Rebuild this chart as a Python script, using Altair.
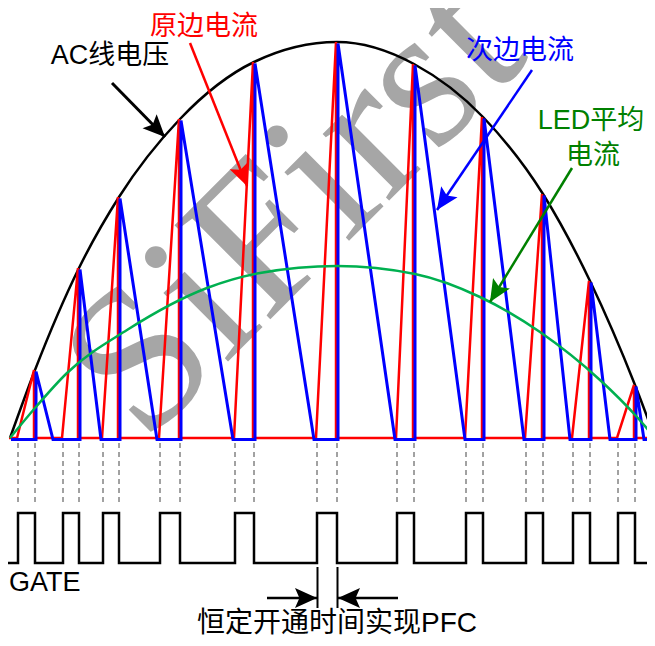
import math
import altair as alt
import pandas as pd

BASE = 438  # screen row of zero current (used only to convert annotation rows)

# ---- switching cycles (time axis in px-like units, current as height) ----
gate_on   = [18, 63, 103, 160, 235, 317, 397, 466, 526, 573, 618]
gate_off  = [35, 79, 119, 180, 254, 337, 414, 483, 543, 590, 635]
peak_i    = [68, 170, 241, 319, 376, 396, 374, 321, 244, 157, 53]
demag_end = [52, 100, 156, 232, 313, 394, 464, 523, 569, 609, 643]

# ---- AC line voltage envelope ----
ac_x = [10, 35, 79, 119, 180, 254, 337, 414, 483, 543, 590, 635, 655]
ac_v = [0, 68, 170, 241, 319, 376, 396, 374, 321, 244, 157, 53, 0]

# ---- LED average current ----
led_x = [10, 35, 67, 127, 207, 260, 337, 415, 480, 540, 600, 637, 655]
led_v = [0, 30, 65, 108, 150, 165, 172, 164, 141, 106, 58, 21, 0]

T0, T1 = 10, 655
GATE_X0 = 8
GATE_HIGH, GATE_LOW = -75, -125
DASH_TOP, DASH_BOT = -5, -65

labels = ["AC线电压", "原边电流", "次边电流", "LED平均", "电流", "GATE", "恒定开通时间实现PFC"]
watermark = "SiFirst"


def lv(sy):
    return BASE - sy


W, H = 639, 630
xs = alt.Scale(domain=[8, 8 + W], nice=False, zero=False)
ys = alt.Scale(domain=[lv(8 + H), lv(8)], nice=False, zero=False)
X = lambda f="x": alt.X(f + ":Q", scale=xs, axis=None)
Y = lambda f="y": alt.Y(f + ":Q", scale=ys, axis=None)

# primary current path
red = [(T0, 0)]
for on, off, p in zip(gate_on, gate_off, peak_i):
    red += [(on, 0), (off, p), (off, 0)]
red += [(T1, 0)]
red_df = pd.DataFrame([{"i": k, "x": a, "y": b} for k, (a, b) in enumerate(red)])

# secondary current path
blue = [(T0, 0)]
for off, p, e in zip(gate_off, peak_i, demag_end):
    blue += [(off, 0), (off, p), (e, 0)]
blue += [(T1, 0)]
blue_df = pd.DataFrame([{"i": k, "x": a, "y": b} for k, (a, b) in enumerate(blue)])

ac_df = pd.DataFrame({"i": range(len(ac_x)), "x": ac_x, "y": ac_v})
led_df = pd.DataFrame({"i": range(len(led_x)), "x": led_x, "y": led_v})

# gate drive
g = [(GATE_X0, GATE_LOW)]
for on, off in zip(gate_on, gate_off):
    g += [(on, GATE_LOW), (on, GATE_HIGH), (off, GATE_HIGH), (off, GATE_LOW)]
g += [(T1, GATE_LOW)]
gate_df = pd.DataFrame([{"i": k, "x": a, "y": b} for k, (a, b) in enumerate(g)])

dash_df = pd.DataFrame({"x": sorted(gate_on + gate_off)})
dash_df["y"] = DASH_TOP
dash_df["y2"] = DASH_BOT

# arrows: (x0, row0, x1, row1, color, width)
arrows = [
    (112, 83, 165, 137, "black", 3),
    (190, 43, 247, 186, "#FF0000", 2.5),
    (532, 70, 437, 210, "#0000FF", 2.5),
    (572, 168, 490, 302, "#008000", 2.5),
    (267, 598, 317, 598, "black", 2.5),
    (398, 598, 338, 598, "black", 2.5),
]
arr_rows, head_rows = [], []
for k, (x0, r0, x1, r1, c, w) in enumerate(arrows):
    arr_rows += [{"a": k, "i": 0, "x": x0, "y": lv(r0), "c": c, "w": w},
                 {"a": k, "i": 1, "x": x1, "y": lv(r1), "c": c, "w": w}]
    ang = math.degrees(math.atan2(r1 - r0, x1 - x0)) % 360
    head_rows.append({"x": x1, "y": lv(r1), "c": c, "ang": ang})
arr_df = pd.DataFrame(arr_rows)
head_df = pd.DataFrame(head_rows)

marker_df = pd.DataFrame({"x": [317.5, 337.5], "y": [lv(567)] * 2, "y2": [lv(608)] * 2})

FONT = "Liberation Sans, Noto Sans CJK SC"
text_df = pd.DataFrame([
    {"t": labels[0], "x": 110, "y": lv(56), "c": "black", "s": 27},
    {"t": labels[1], "x": 204, "y": lv(27), "c": "#FF0000", "s": 27},
    {"t": labels[2], "x": 520, "y": lv(51), "c": "#0000FF", "s": 27},
    {"t": labels[3], "x": 591, "y": lv(121), "c": "#008000", "s": 27},
    {"t": labels[4], "x": 593, "y": lv(156), "c": "#008000", "s": 27},
    {"t": labels[6], "x": 337, "y": lv(624), "c": "black", "s": 28},
])
gate_txt = pd.DataFrame([{"t": labels[5], "x": 9, "y": lv(583)}])
wm_df = pd.DataFrame([{"t": watermark, "x": 294, "y": lv(208)}])

HEAD = "M0,0 L-2,-0.9 L-1.6,0 L-2,0.9 Z"

layers = [
    alt.Chart(wm_df).mark_text(font="Liberation Serif", fontSize=205, angle=315,
                               color="#A6A6A6", align="center", baseline="middle")
    .encode(x=X(), y=Y(), text="t:N"),
    alt.Chart(dash_df).mark_rule(color="#444444", strokeWidth=1, strokeDash=[5, 4])
    .encode(x=X(), y=Y(), y2="y2:Q"),
    alt.Chart(ac_df).mark_line(color="black", strokeWidth=2.5, interpolate="monotone")
    .encode(x=X(), y=Y(), order="i:Q"),
    alt.Chart(red_df).mark_line(color="#FF0000", strokeWidth=2.5, xOffset=-1)
    .encode(x=X(), y=Y(), order="i:Q"),
    alt.Chart(blue_df).mark_line(color="#0000FF", strokeWidth=3, xOffset=1, yOffset=1.5)
    .encode(x=X(), y=Y(), order="i:Q"),
    alt.Chart(led_df).mark_line(color="#00B050", strokeWidth=2.5, interpolate="monotone")
    .encode(x=X(), y=Y(), order="i:Q"),
    alt.Chart(gate_df).mark_line(color="black", strokeWidth=2.5)
    .encode(x=X(), y=Y(), order="i:Q"),
    alt.Chart(marker_df).mark_rule(color="black", strokeWidth=2)
    .encode(x=X(), y=Y(), y2="y2:Q"),
    alt.Chart(arr_df).mark_line()
    .encode(x=X(), y=Y(), order="i:Q", detail="a:N",
            color=alt.Color("c:N", scale=None), strokeWidth=alt.StrokeWidth("w:Q", scale=None)),
    alt.Chart(head_df).mark_point(shape=HEAD, size=484, filled=True, opacity=1, strokeWidth=0)
    .encode(x=X(), y=Y(), color=alt.Color("c:N", scale=None), angle=alt.Angle("ang:Q", scale=None)),
    alt.Chart(text_df).mark_text(font=FONT, align="center", baseline="middle")
    .encode(x=X(), y=Y(), text="t:N", color=alt.Color("c:N", scale=None),
            size=alt.Size("s:Q", scale=None)),
    alt.Chart(gate_txt).mark_text(font=FONT, fontSize=27, align="left", baseline="middle", color="black")
    .encode(x=X(), y=Y(), text="t:N"),
]

chart = alt.layer(*layers).properties(
    width=W, height=H, autosize=alt.AutoSizeParams(type="none"), padding=0,
    background="white",
).configure_view(stroke=None)

chart.save("out.html", embed_options={"renderer": "svg", "actions": False})
